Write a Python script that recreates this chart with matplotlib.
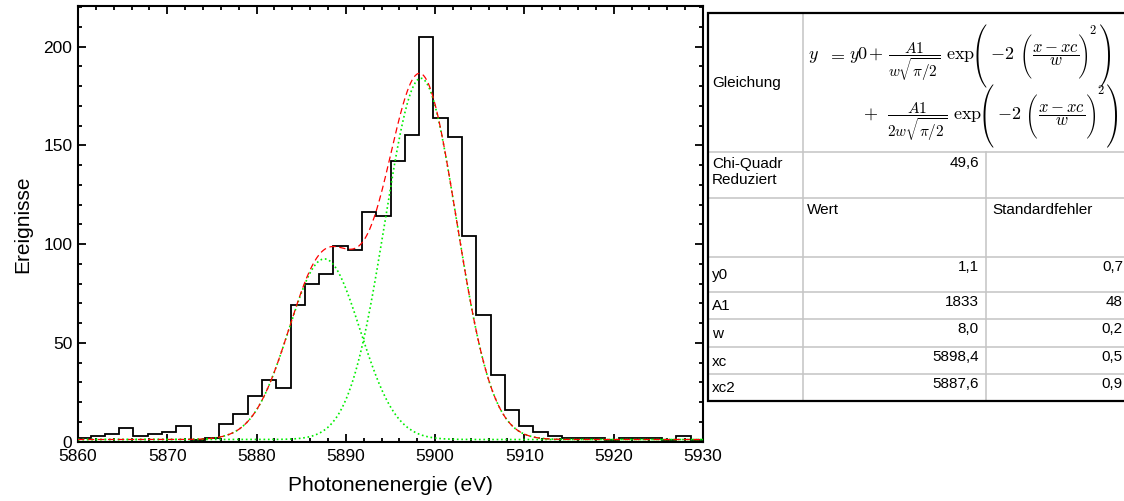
import numpy as np
import matplotlib
matplotlib.use("Agg")
import matplotlib.pyplot as plt
from matplotlib.ticker import MultipleLocator
from matplotlib.textpath import TextPath
from matplotlib.font_manager import FontProperties
from matplotlib.patches import PathPatch
from matplotlib.path import Path
from matplotlib._mathtext import BakomaFonts

plt.rcParams["font.family"] = ["Liberation Sans", "DejaVu Sans"]
plt.rcParams["mathtext.fontset"] = "cm"

# histogram (1.6 eV bins)
bin_lo = 5859.8
bin_width = 1.6
counts = [2, 3, 4, 7, 3, 4, 5, 8, 1, 2, 9, 14, 23, 31, 27, 69, 80, 85, 99, 97,
          116, 114, 142, 155, 205, 164, 154, 104, 64, 34, 16, 8, 5, 3, 2, 2, 2,
          1, 2, 2, 2, 1, 3, 1]

# fit parameters (from the table)
y0, y0_err = 1.1, 0.7
A1, A1_err = 1833, 48
w, w_err = 8.0, 0.2
xc, xc_err = 5898.4, 0.5
xc2, xc2_err = 5887.6, 0.9
chi2_red = 49.6

param_names = ["y0", "A1", "w", "xc", "xc2"]
param_vals = ["1,1", "1833", "8,0", "5898,4", "5887,6"]
param_errs = ["0,7", "48", "0,2", "0,5", "0,9"]

edges = bin_lo + bin_width * np.arange(len(counts) + 1)
x = np.linspace(5860, 5930, 800)
norm = w * np.sqrt(np.pi / 2)
peak1 = A1 / norm * np.exp(-2 * ((x - xc) / w) ** 2)
peak2 = A1 / (2 * norm) * np.exp(-2 * ((x - xc2) / w) ** 2)

fig = plt.figure(figsize=(11.24, 5.01), dpi=100)
ax = fig.add_axes([78 / 1124, 1 - 441.7 / 501, 625 / 1124, 435.7 / 501])

ax.stairs(counts, edges, color="black", lw=1.3, zorder=2)
ax.plot(x, y0 + peak1, ls=":", color="#00ee00", lw=1.2, zorder=3)
ax.plot(x, y0 + peak2, ls=":", color="#00ee00", lw=1.2, zorder=3)
ax.plot(x, y0 + peak1 + peak2, ls=(0, (5, 3)), color="red", lw=0.9, zorder=4)

ax.set_xlim(5860, 5930)
ax.set_ylim(0, 220.5)
ax.xaxis.set_major_locator(MultipleLocator(10))
ax.xaxis.set_minor_locator(MultipleLocator(2))
ax.yaxis.set_major_locator(MultipleLocator(50))
ax.yaxis.set_minor_locator(MultipleLocator(10))
ax.tick_params(which="both", direction="in", top=True, right=True, width=1.3)
ax.tick_params(which="major", length=6)
ax.tick_params(which="minor", length=3)
ax.tick_params(axis="x", labelsize=12.5, pad=5)
ax.tick_params(axis="y", labelsize=12.5, pad=4)
for sp in ax.spines.values():
    sp.set_linewidth(1.5)
ax.set_xlabel("Photonenenergie (eV)", fontsize=15, labelpad=9)
ax.set_ylabel("Ereignisse", fontsize=15, labelpad=8)

# ---- results table (pixel coordinates, y down) ----
tab = fig.add_axes([0, 0, 1, 1])
tab.set_xlim(0, 1124)
tab.set_ylim(501, 0)
tab.axis("off")

left, right = 708, 1130
c1, c2 = 803, 986
rows = [13, 152, 198, 257, 292, 319, 347, 374, 401]
grid = "#c4c4c4"
for r in rows[1:-1]:
    tab.plot([left, right], [r, r], color=grid, lw=1.1)
tab.plot([c1, c1], [rows[0], rows[-1]], color=grid, lw=1.1)
tab.plot([c2, c2], [rows[1], rows[-1]], color=grid, lw=1.1)
tab.plot([right, left, left, right], [rows[0], rows[0], rows[-1], rows[-1]],
         color="black", lw=1.6, solid_joinstyle="miter")

fs = 11
tab.text(712, 83, "Gleichung", fontsize=fs, va="center")

# equation: mathtext pieces + tall TeX (cmex) parentheses
cmex = FontProperties(fname=matplotlib.get_data_path() + "/fonts/ttf/cmex10.ttf")
alt_l = BakomaFonts._size_alternatives["("]
alt_r = BakomaFonts._size_alternatives[")"]


def delim(ch, cx, cy, h, wd):
    p = TextPath((0, 0), ch, size=10, prop=cmex)
    ext = p.get_extents()
    v = p.vertices.copy()
    v[:, 0] = cx + (v[:, 0] - (ext.x0 + ext.x1) / 2) * wd / ext.width
    v[:, 1] = cy - (v[:, 1] - (ext.y0 + ext.y1) / 2) * h / ext.height
    tab.add_patch(PathPatch(Path(v, p.codes), fc="black", ec="none", lw=0))


for base, pieces, big, inner, sup in [
    (59, [("$y$", "left", 808, 13), ("$=$", "center", 836, 13),
          ("$y0$", "left", 849, 13), ("$+$", "center", 876, 13),
          (r"$\dfrac{A1}{w\sqrt{\pi/2}}$", "center", 914, 11),
          (r"$\exp$", "left", 946, 13), ("$-2$", "left", 990, 13),
          (r"$\dfrac{x-xc}{w}$", "center", 1056, 12)],
     (981.5, 1105), (1027.5, 1083), 1089),
    (119, [("$+$", "center", 871, 13),
           (r"$\dfrac{A1}{2w\sqrt{\pi/2}}$", "center", 917, 11),
           (r"$\exp$", "left", 953, 13), ("$-2$", "left", 997, 13),
           (r"$\dfrac{x-xc}{w}$", "center", 1062, 12)],
     (988.5, 1112), (1033, 1091), 1097),
]:
    for s, ha, xp, size in pieces:
        tab.text(xp, base, s, fontsize=size, ha=ha, va="baseline")
    delim(alt_l[-1][1], big[0], base - 3, 63, 10)
    delim(alt_r[-1][1], big[1], base - 3, 63, 10)
    delim(alt_l[-2][1], inner[0], base - 2.5, 44, 8)
    delim(alt_r[-2][1], inner[1], base - 2.5, 44, 8)
    tab.text(sup, base - 25, "$2$", fontsize=9, ha="left", va="baseline")

tab.text(712, 157, "Chi-Quadr\nReduziert", fontsize=fs, va="top", linespacing=1.15)
tab.text(979, 156, f"{chi2_red:.1f}".replace(".", ","), fontsize=fs,
         ha="right", va="top")
tab.text(807, 203, "Wert", fontsize=fs, va="top")
tab.text(992, 203, "Standardfehler", fontsize=fs, va="top")

for i, name in enumerate(param_names):
    top, bot = rows[i + 3], rows[i + 4]
    tab.text(712, (top + bot) / 2 + 1, name, fontsize=fs, va="center")
    tab.text(979, top + 3, param_vals[i], fontsize=fs, ha="right", va="top")
    tab.text(1123, top + 3, param_errs[i], fontsize=fs, ha="right", va="top")

fig.savefig("out.png", dpi=100)
